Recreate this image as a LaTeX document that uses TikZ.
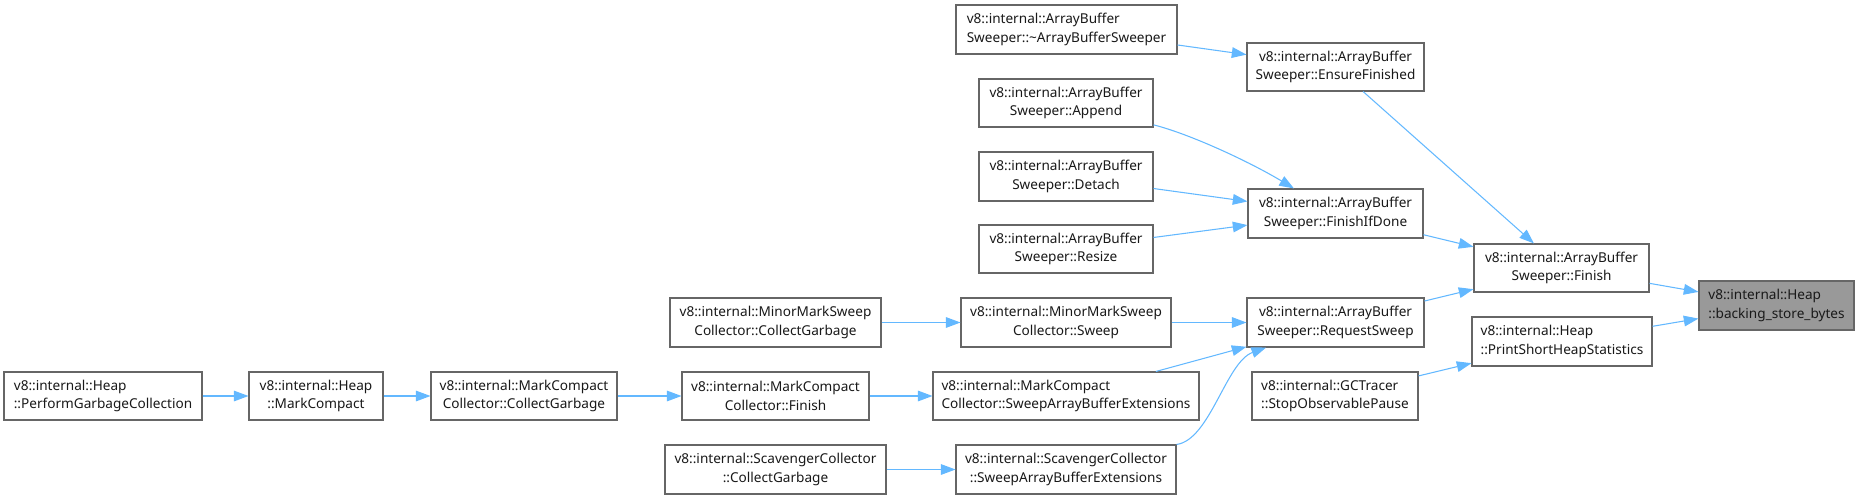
\documentclass[tikz,border=0pt]{standalone}
\usepackage{fontspec}
\newfontfamily\nodefont{Noto Sans}
\usetikzlibrary{arrows.meta}
\definecolor{edgeblue}{HTML}{63B8FF}
\definecolor{boxborder}{HTML}{666666}
\definecolor{rootfill}{HTML}{999999}
\tikzset{
  box/.style={draw=boxborder, line width=0.8pt, fill=white, inner sep=0pt, align=center,
    font={\nodefont\fontsize{10.2}{14}\selectfont}, text=black!90},
  rootbox/.style={box, fill=rootfill},
  edge/.style={draw=edgeblue, line width=0.8pt, -{Triangle[length=11pt,width=8pt]}},
}
\newcommand\bx[7]{\node[box,#7,minimum width={(#4-#2)*0.75pt},minimum height={(#5-#3)*0.75pt}] (#1) at ({(#2+#4)/2},{(#3+#5)/2}) {#6};}
\begin{document}
\begin{tikzpicture}[x=0.75pt,y=-0.75pt]
\useasboundingbox (0,0) rectangle (1859,499);
% nodes
\bx{dtor}{956}{5}{1177}{54}{v8::internal::ArrayBuffer\\Sweeper::\textasciitilde ArrayBufferSweeper}{align=left}
\bx{ens}{1247}{43}{1424}{91}{v8::internal::ArrayBuffer\\Sweeper::EnsureFinished}{}
\bx{app}{979}{79}{1153}{127}{v8::internal::ArrayBuffer\\Sweeper::Append}{}
\bx{det}{979}{152}{1153}{201}{v8::internal::ArrayBuffer\\Sweeper::Detach}{}
\bx{res}{979}{225}{1153}{273}{v8::internal::ArrayBuffer\\Sweeper::Resize}{}
\bx{fid}{1248}{189}{1423}{238}{v8::internal::ArrayBuffer\\Sweeper::FinishIfDone}{}
\bx{fin}{1474}{244}{1649}{292}{v8::internal::ArrayBuffer\\Sweeper::Finish}{}
\bx{root}{1699}{281}{1854}{330}{v8::internal::Heap\\::backing\_store\_bytes}{align=left,fill=rootfill}
\bx{psh}{1472}{317}{1652}{366}{v8::internal::Heap\\::PrintShortHeapStatistics}{align=left}
\bx{rqs}{1247}{298}{1424}{347}{v8::internal::ArrayBuffer\\Sweeper::RequestSweep}{}
\bx{gct}{1252}{372}{1418}{420}{v8::internal::GCTracer\\::StopObservablePause}{align=left}
\bx{mmss}{961}{298}{1171}{347}{v8::internal::MinorMarkSweep\\Collector::Sweep}{}
\bx{mcsabe}{933}{372}{1199}{420}{v8::internal::MarkCompact\\Collector::SweepArrayBufferExtensions}{align=left}
\bx{scsabe}{956}{445}{1176}{494}{v8::internal::ScavengerCollector\\::SweepArrayBufferExtensions}{}
\bx{mmscg}{670}{298}{881}{347}{v8::internal::MinorMarkSweep\\Collector::CollectGarbage}{}
\bx{mcfin}{682}{372}{869}{420}{v8::internal::MarkCompact\\Collector::Finish}{}
\bx{sccg}{665}{445}{886}{494}{v8::internal::ScavengerCollector\\::CollectGarbage}{}
\bx{mccg}{431}{372}{617}{420}{v8::internal::MarkCompact\\Collector::CollectGarbage}{}
\bx{hmc}{249}{372}{383}{420}{v8::internal::Heap\\::MarkCompact}{}
\bx{pgc}{4}{372}{202}{420}{v8::internal::Heap\\::PerformGarbageCollection}{align=left}
% edges
\draw[edge] (dtor) -- (ens);
\draw[edge] (ens) -- (fin);
\draw[edge] (app) .. controls (1190,134) and (1250,162) .. (fid);
\draw[edge] (det) -- (fid);
\draw[edge] (res) -- (fid);
\draw[edge] (fid) -- (fin);
\draw[edge] (rqs) -- (fin);
\draw[edge] (fin) -- (root);
\draw[edge] (psh) -- (root);
\draw[edge] (gct) -- (psh);
\draw[edge] (mmss) -- (rqs);
\draw[edge] (mcsabe) -- (rqs);
\draw[edge] (scsabe.north east) .. controls (1210,440) and (1226,362) .. (rqs);
\draw[edge] (mmscg) -- (mmss);
\draw[edge] (mcfin) -- (mcsabe);
\draw[edge] (sccg) -- (scsabe);
\draw[edge] (pgc) -- (hmc);
\draw[edge] (hmc) -- (mccg);
\draw[edge] (mccg) -- (mcfin);
\end{tikzpicture}
\end{document}
